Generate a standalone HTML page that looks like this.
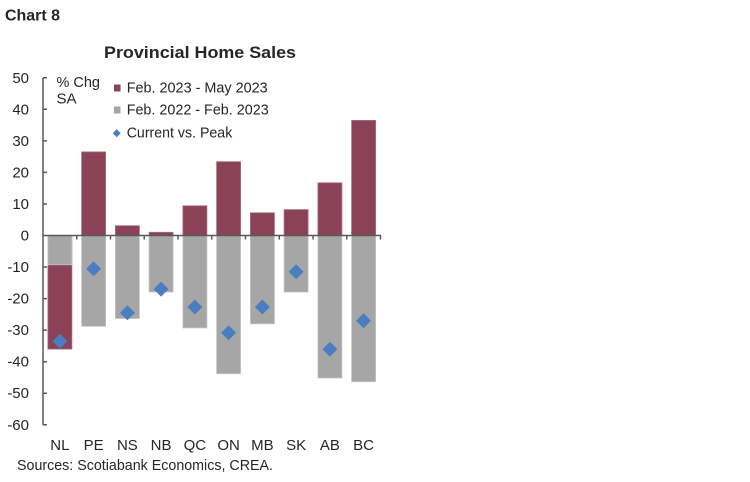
<!DOCTYPE html>
<html>
<head>
<meta charset="utf-8">
<style>
html,body{margin:0;padding:0;background:#fff;}
svg{display:block;}
text{font-family:"Liberation Sans",sans-serif;fill:#262626;}
</style>
</head>
<body>
<svg width="750" height="482" viewBox="0 0 750 482" xmlns="http://www.w3.org/2000/svg">
<rect width="750" height="482" fill="#fff"/>
<text x="5" y="20.5" font-size="15.5" font-weight="bold" fill="#000" textLength="55" lengthAdjust="spacingAndGlyphs">Chart 8</text>
<text x="104" y="58" font-size="16.5" font-weight="bold" fill="#000" textLength="192" lengthAdjust="spacingAndGlyphs">Provincial Home Sales</text>

<!-- y labels -->
<g font-size="15" text-anchor="end">
<text x="29" y="83">50</text>
<text x="29" y="114.5">40</text>
<text x="29" y="146">30</text>
<text x="29" y="177.5">20</text>
<text x="29" y="209">10</text>
<text x="29" y="240.5">0</text>
<text x="29" y="272">-10</text>
<text x="29" y="303.5">-20</text>
<text x="29" y="335">-30</text>
<text x="29" y="366.5">-40</text>
<text x="29" y="398">-50</text>
<text x="29" y="430">-60</text>
</g>

<!-- bars -->
<g stroke-width="0.8">
<!-- maroon -->
<g fill="#8B4256" stroke="#A8707F">
<rect x="47.9" y="235.5" width="24" height="113.6"/>
<rect x="81.6" y="151.9" width="24" height="83.6"/>
<rect x="115.4" y="225.7" width="24" height="9.8"/>
<rect x="149.1" y="232.3" width="24" height="3.2"/>
<rect x="182.9" y="205.8" width="24" height="29.7"/>
<rect x="216.6" y="161.7" width="24" height="73.8"/>
<rect x="250.4" y="212.8" width="24" height="22.7"/>
<rect x="284.1" y="209.6" width="24" height="25.9"/>
<rect x="317.9" y="182.8" width="24" height="52.7"/>
<rect x="351.6" y="120.4" width="24" height="115.1"/>
</g>
<!-- gray -->
<g fill="#A6A6A6" stroke="#C4C4C4">
<rect x="47.9" y="235.5" width="24" height="29.3"/>
<rect x="81.6" y="235.5" width="24" height="90.8"/>
<rect x="115.4" y="235.5" width="24" height="83"/>
<rect x="149.1" y="235.5" width="24" height="56.5"/>
<rect x="182.9" y="235.5" width="24" height="92.4"/>
<rect x="216.6" y="235.5" width="24" height="138.2"/>
<rect x="250.4" y="235.5" width="24" height="88.3"/>
<rect x="284.1" y="235.5" width="24" height="56.5"/>
<rect x="317.9" y="235.5" width="24" height="142.5"/>
<rect x="351.6" y="235.5" width="24" height="146.2"/>
</g>
</g>

<!-- diamonds -->
<g fill="#4A7EC0">
<polygon points="59.9,333.8 67.4,341.3 59.9,348.8 52.4,341.3"/>
<polygon points="93.6,261.2 101.1,268.7 93.6,276.2 86.1,268.7"/>
<polygon points="127.4,305.2 134.9,312.7 127.4,320.2 119.9,312.7"/>
<polygon points="161.1,281.6 168.6,289.1 161.1,296.6 153.6,289.1"/>
<polygon points="194.9,299.5 202.4,307 194.9,314.5 187.4,307"/>
<polygon points="228.6,325.2 236.1,332.7 228.6,340.2 221.1,332.7"/>
<polygon points="262.4,299.5 269.9,307 262.4,314.5 254.9,307"/>
<polygon points="296.1,264.2 303.6,271.7 296.1,279.2 288.6,271.7"/>
<polygon points="329.9,341.8 337.4,349.3 329.9,356.8 322.4,349.3"/>
<polygon points="363.6,313.2 371.1,320.7 363.6,328.2 356.1,320.7"/>
</g>

<!-- axes -->
<g stroke="#595959" stroke-width="1.5" fill="none">
<line x1="43" y1="77.8" x2="43" y2="425"/>
<line x1="43" y1="235.5" x2="381" y2="235.5"/>
<path d="M43 77.8h4 M43 109.3h4 M43 140.9h4 M43 172.4h4 M43 204h4 M43 267h4 M43 298.6h4 M43 330.1h4 M43 361.7h4 M43 393.2h4 M43 424.8h4"/>
<path d="M76.75 235.5v4 M110.5 235.5v4 M144.25 235.5v4 M178 235.5v4 M211.75 235.5v4 M245.5 235.5v4 M279.25 235.5v4 M313 235.5v4 M346.75 235.5v4 M380.5 235.5v4"/>
</g>

<!-- x labels -->
<g font-size="15" text-anchor="middle">
<text x="59.9" y="450">NL</text>
<text x="93.6" y="450">PE</text>
<text x="127.4" y="450">NS</text>
<text x="161.1" y="450">NB</text>
<text x="194.9" y="450">QC</text>
<text x="228.6" y="450">ON</text>
<text x="262.4" y="450">MB</text>
<text x="296.1" y="450">SK</text>
<text x="329.9" y="450">AB</text>
<text x="363.6" y="450">BC</text>
</g>

<!-- unit label -->
<text x="56.5" y="87" font-size="15" textLength="43.5" lengthAdjust="spacingAndGlyphs">% Chg</text>
<text x="56.5" y="103.5" font-size="15">SA</text>

<!-- legend -->
<rect x="114" y="84.5" width="6.5" height="7" fill="#8B4256"/>
<text x="126.7" y="92.7" font-size="15" textLength="141" lengthAdjust="spacingAndGlyphs">Feb. 2023 - May 2023</text>
<rect x="114" y="106.5" width="6.5" height="7" fill="#A6A6A6"/>
<text x="126.7" y="114.7" font-size="15" textLength="142" lengthAdjust="spacingAndGlyphs">Feb. 2022 - Feb. 2023</text>
<polygon points="116.7,129.3 120.7,133.3 116.7,137.3 112.7,133.3" fill="#4A7EC0"/>
<text x="126.7" y="137.5" font-size="15" textLength="105.6" lengthAdjust="spacingAndGlyphs">Current vs. Peak</text>

<!-- source -->
<text x="17" y="470" font-size="14.5" textLength="256" lengthAdjust="spacingAndGlyphs">Sources: Scotiabank Economics, CREA.</text>
</svg>
</body>
</html>
